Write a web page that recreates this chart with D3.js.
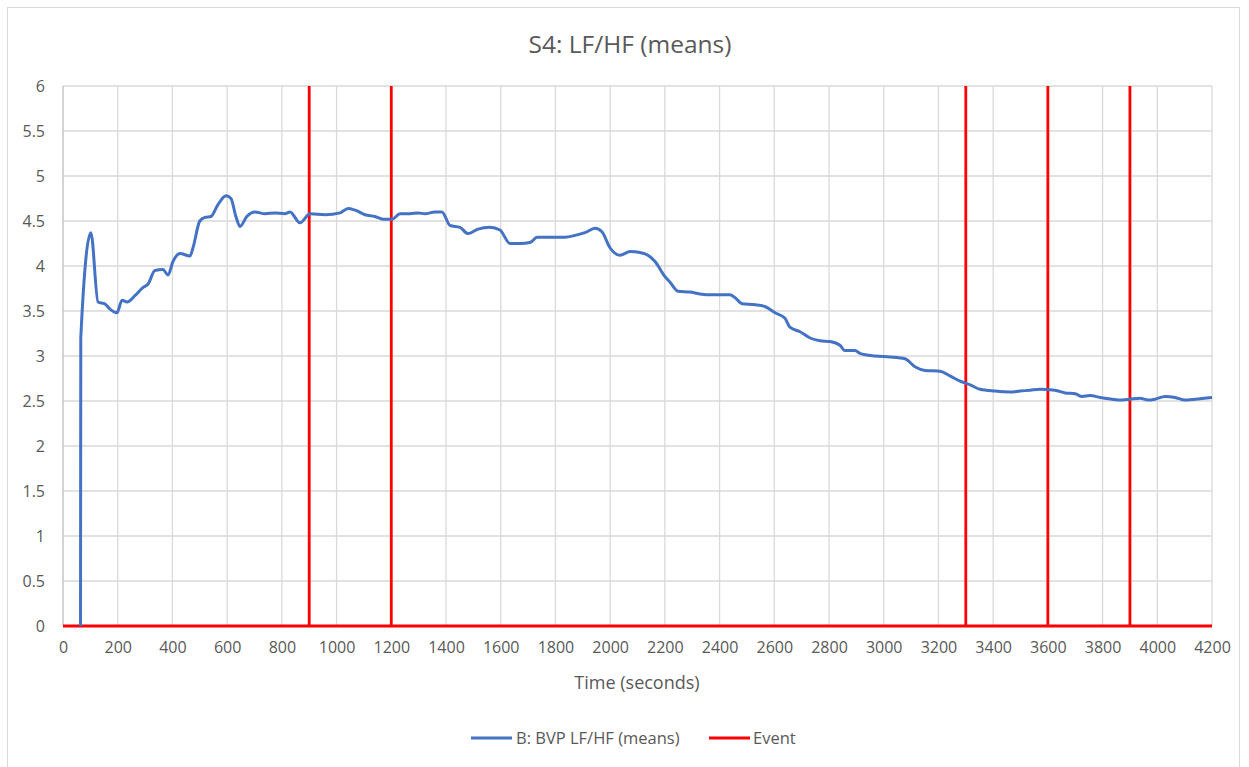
<!DOCTYPE html>
<html><head><meta charset="utf-8">
<script src="https://cdn.jsdelivr.net/npm/d3@7"></script>
<style>
body{margin:0;background:#fff;}
text{font-family:"Open Sans","Noto Sans",sans-serif;fill:#595959;}
</style></head>
<body>
<svg id="chart" width="1249" height="767"></svg>
<script>
const title = "S4: LF/HF (means)";
const xLabel = "Time (seconds)";
const seriesName = "B: BVP LF/HF (means)";
const eventName = "Event";
const xTicks = d3.range(0, 4201, 200);
const yTicks = d3.range(0, 6.01, 0.5);
const eventTimes = [900, 1200, 3300, 3600, 3900];
const eventHeight = 6;
const times = [64,65,102,128,153,172,197,216,234,263,292,311,336,365,384,402,428,464,475,500,519,541,566,596,614,632,647,672,702,738,775,811,830,866,903,958,1013,1042,1068,1104,1140,1170,1203,1232,1268,1298,1323,1360,1385,1415,1451,1480,1517,1561,1597,1634,1670,1707,1733,1780,1835,1872,1908,1945,1970,2000,2036,2073,2109,2138,2164,2201,2219,2248,2292,2328,2372,2402,2438,2456,2482,2530,2566,2603,2639,2657,2694,2731,2767,2804,2840,2858,2895,2913,2968,3023,3078,3114,3151,3206,3242,3279,3316,3352,3407,3462,3498,3535,3571,3626,3663,3700,3725,3754,3791,3835,3864,3900,3937,3966,3992,4028,4065,4101,4138,4200];
const values = [0,3.2,4.37,3.6,3.58,3.52,3.48,3.62,3.6,3.67,3.76,3.8,3.95,3.96,3.9,4.05,4.14,4.11,4.2,4.5,4.54,4.55,4.68,4.78,4.75,4.55,4.44,4.55,4.6,4.58,4.59,4.58,4.6,4.48,4.58,4.57,4.59,4.64,4.62,4.57,4.55,4.52,4.52,4.58,4.58,4.59,4.58,4.6,4.6,4.45,4.43,4.36,4.41,4.43,4.4,4.25,4.25,4.26,4.32,4.32,4.32,4.34,4.37,4.42,4.38,4.2,4.12,4.16,4.15,4.12,4.05,3.88,3.82,3.72,3.71,3.69,3.68,3.68,3.68,3.65,3.58,3.57,3.55,3.48,3.42,3.32,3.27,3.2,3.17,3.16,3.12,3.06,3.06,3.03,3.0,2.99,2.97,2.88,2.84,2.83,2.78,2.72,2.68,2.63,2.61,2.6,2.61,2.62,2.63,2.62,2.59,2.58,2.55,2.56,2.54,2.52,2.51,2.52,2.53,2.51,2.52,2.55,2.54,2.51,2.52,2.54];

const svg = d3.select("#chart");
const blue = "#4472C4", red = "#FF0000", grid = "#d9d9d9";
const L = 63, R = 1212, T = 86, B = 626;
const x = d3.scaleLinear().domain([0, 4200]).range([L, R]);
const y = d3.scaleLinear().domain([0, 6]).range([B, T]);

svg.append("rect").attr("x", 7.5).attr("y", 7.5).attr("width", 1232).attr("height", 800)
  .attr("fill", "#fff").attr("stroke", "#d9d9d9");

svg.append("text").attr("x", 630).attr("y", 53).attr("text-anchor", "middle")
  .style("font-size", "24.5px").text(title);

// grid
svg.append("g").selectAll("line").data(yTicks).join("line")
  .attr("x1", L).attr("x2", R).attr("y1", d => y(d)).attr("y2", d => y(d))
  .attr("stroke", grid).attr("stroke-width", 1.3);
svg.append("g").selectAll("line").data(xTicks.slice(1)).join("line")
  .attr("x1", d => x(d)).attr("x2", d => x(d)).attr("y1", T).attr("y2", B)
  .attr("stroke", grid).attr("stroke-width", 1.3);
svg.append("line").attr("x1", L).attr("x2", L).attr("y1", T).attr("y2", B)
  .attr("stroke", "#bfbfbf").attr("stroke-width", 1.3);

// axes
const yAxis = d3.axisLeft(y).tickValues(yTicks).tickSize(0).tickPadding(18).tickFormat(d3.format("~g"));
const gy = svg.append("g").attr("transform", `translate(${L},0)`).call(yAxis);
gy.select(".domain").remove();
gy.selectAll("text").style("font-size", "16px").style("fill", "#595959");
const xAxis = d3.axisBottom(x).tickValues(xTicks).tickSize(0).tickPadding(16).tickFormat(d3.format("d"));
const gx = svg.append("g").attr("transform", `translate(0,${B})`).call(xAxis);
gx.select(".domain").remove();
gx.selectAll("text").style("font-size", "16px").style("fill", "#595959");

svg.append("text").attr("x", 637).attr("y", 689).attr("text-anchor", "middle")
  .style("font-size", "18px").text(xLabel);

// event series as step polyline
const evPts = [[0, 0]];
eventTimes.forEach(t => { evPts.push([t, 0], [t, eventHeight], [t, 0]); });
evPts.push([4200, 0]);
svg.append("path").datum(evPts)
  .attr("d", d3.line().x(d => x(d[0])).y(d => y(d[1])))
  .attr("fill", "none").attr("stroke", red).attr("stroke-width", 2.8);

// main series
const data = times.map((t, i) => [t, values[i]]);
svg.append("path").datum(data)
  .attr("d", d3.line().x(d => x(d[0])).y(d => y(d[1])).curve(d3.curveMonotoneX))
  .attr("fill", "none").attr("stroke", blue).attr("stroke-width", 3).attr("stroke-linejoin", "round");

// legend
const lg = svg.append("g");
lg.append("line").attr("x1", 471).attr("x2", 512).attr("y1", 738).attr("y2", 738).attr("stroke", blue).attr("stroke-width", 3);
lg.append("text").attr("x", 516).attr("y", 744).style("font-size", "16.5px").text(seriesName);
lg.append("line").attr("x1", 709).attr("x2", 750).attr("y1", 738).attr("y2", 738).attr("stroke", red).attr("stroke-width", 3);
lg.append("text").attr("x", 753).attr("y", 744).style("font-size", "16.5px").text(eventName);
</script>
</body></html>
